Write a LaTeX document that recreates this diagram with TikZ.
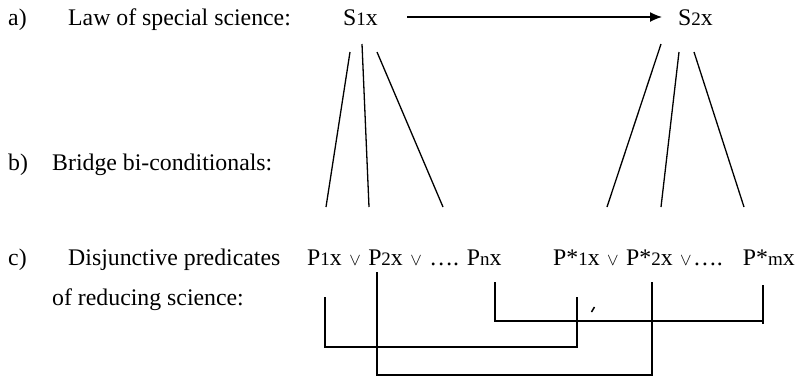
\documentclass[tikz,border=0pt]{standalone}
\usepackage{fontspec}
\setmainfont{Liberation Serif}
\newcommand\sbs[1]{{\fontsize{19}{19}\selectfont #1}}
\newcommand\orr{\hspace{1.5pt}{\fontsize{18.5}{18.5}\selectfont$\vee$}\hspace{1.5pt}}
\tikzset{
  lbl/.style={anchor=base west, inner sep=0pt, font=\fontsize{23.8}{28}\selectfont},
  ln/.style={line width=1.3pt, line cap=butt},
  arr/.style={line width=1.3pt, -{Latex[length=12pt,width=10pt]}}
}
\usetikzlibrary{arrows.meta}
\begin{document}
\begin{tikzpicture}[x=1pt,y=-1pt]
\useasboundingbox (0,0) rectangle (800,376);
% row a
\node[lbl] (ta) at (8,25) {a)};
\node[lbl] (la) at (68,25) {Law of special science:};
\node[lbl] (s1) at (343,25) {S\sbs{1}x};
\node[lbl] (s2) at (678,25) {S\sbs{2}x};
% row b
\node[lbl] (tb) at (8,170) {b)};
\node[lbl] (lb) at (52,170) {Bridge bi-conditionals:};
% row c
\node[lbl] (tc) at (8,265) {c)};
\node[lbl] (lc) at (68,265) {Disjunctive predicates};
\node[lbl] (pl) at (307,265) {P\sbs{1}x \orr{} P\sbs{2}x \orr{} …. P\sbs{n}x};
\node[lbl] (pr) at (553,265) {P*\sbs{1}x \orr{} P*\sbs{2}x \orr{}….\hspace{20pt}P*\sbs{m}x};
\node[lbl] (ld) at (52,305) {of reducing science:};
% arrow
\coordinate (a0) at (407,17);
\coordinate (a1) at (662,17);
\draw[arr] (a0) -- (a1);
% left fan
\coordinate (f1t) at (350,52); \coordinate (f1b) at (326,207);
\coordinate (f2t) at (362,44); \coordinate (f2b) at (369,207);
\coordinate (f3t) at (377,52); \coordinate (f3b) at (443,207);
\draw[ln] (f1t) -- (f1b);
\draw[ln] (f2t) -- (f2b);
\draw[ln] (f3t) -- (f3b);
% right fan
\coordinate (g1t) at (661,44); \coordinate (g1b) at (607,207);
\coordinate (g2t) at (679,52); \coordinate (g2b) at (661,207);
\coordinate (g3t) at (694,52); \coordinate (g3b) at (744,207);
\draw[ln] (g1t) -- (g1b);
\draw[ln] (g2t) -- (g2b);
\draw[ln] (g3t) -- (g3b);
% brackets
\coordinate (b1a) at (325,297); \coordinate (b1b) at (577,297);
\draw[ln] (b1a) |- (577,347) -- (b1b);
\coordinate (b2a) at (377,272); \coordinate (b2b) at (652,282);
\draw[ln] (b2a) |- (652,375) -- (b2b);
\coordinate (b3a) at (495,282); \coordinate (b3b) at (763,285);
\draw[ln] (b3a) |- (763,321);
\draw[ln] (b3b) -- (763,324);
% tick
\coordinate (t0) at (591.5,312); \coordinate (t1) at (594.5,307);
\draw[line width=1.5pt] (t0) -- (t1);
\end{tikzpicture}
\end{document}
